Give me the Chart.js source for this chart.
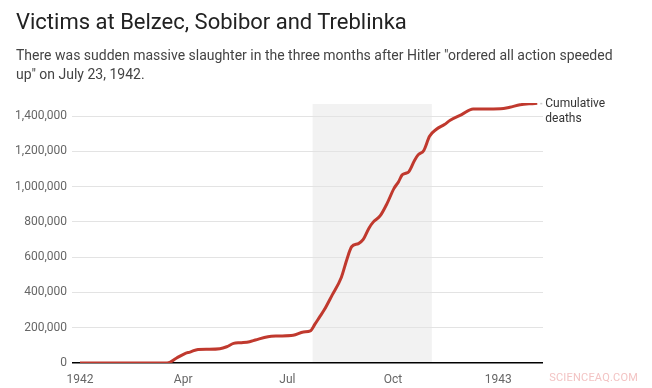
<!DOCTYPE html>
<html>
<head>
<meta charset="utf-8">
<script src="https://cdn.jsdelivr.net/npm/chart.js@4/dist/chart.umd.min.js"></script>
<style>
  html, body { margin: 0; padding: 0; background: #fff; }
  #wrap { position: relative; width: 652px; height: 388px; overflow: hidden; font-family: Roboto, "Liberation Sans", sans-serif; }
  #title { position: absolute; left: 16px; top: 9px; font-size: 22px; color: #222; white-space: nowrap; }
  #subtitle { position: absolute; left: 16px; top: 46px; font-size: 14px; line-height: 19px; color: #444; white-space: nowrap; }
  #wm { position: absolute; right: 14px; top: 371px; font-size: 11px; color: #f3c4c4; letter-spacing: 0.2px; }
  canvas { position: absolute; left: 0; top: 0; }
</style>
</head>
<body>
<div id="wrap">
  <canvas id="c" width="652" height="388"></canvas>
  <div id="title">Victims at Belzec, Sobibor and Treblinka</div>
  <div id="subtitle">There was sudden massive slaughter in the three months after Hitler "ordered all action speeded<br>up" on July 23, 1942.</div>
  <div id="wm">SCIENCEAQ.COM</div>
</div>
<script>
// Days since Jan 1, 1942
const days = [0, 76, 84, 92, 96, 103, 112, 122, 128, 134, 140, 148, 153, 164, 172, 186, 195, 201, 205, 209, 213, 220, 228, 233, 237, 243, 247, 252, 256, 262, 268, 274, 278, 281, 284, 287, 292, 295, 300, 305, 311, 318, 323, 333, 343, 352, 367, 375, 384, 393, 399];
const deaths = [0, 0, 27000, 55000, 62000, 77000, 78000, 81000, 92000, 111000, 115000, 121000, 130000, 149000, 153000, 157000, 176000, 182000, 220000, 260000, 300000, 385000, 485000, 590000, 659000, 677000, 699000, 763000, 800000, 835000, 905000, 990000, 1028000, 1066000, 1075000, 1085000, 1150000, 1180000, 1205000, 1285000, 1325000, 1352000, 1376000, 1408000, 1440000, 1440000, 1441000, 1450000, 1464000, 1470000, 1472000];
const xTickDays = [0, 90, 181, 273, 365];
const xTickLabels = ['1942', 'Apr', 'Jul', 'Oct', '1943'];
const yTicks = [0, 200000, 400000, 600000, 800000, 1000000, 1200000, 1400000];
const highlightDays = [203, 307]; // July 23 to early November 1942
const seriesLabel = ['Cumulative', 'deaths'];

Chart.defaults.font.family = 'Roboto, "Liberation Sans", sans-serif';

const shadePlugin = {
  id: 'shade',
  beforeDraw(chart) {
    const { ctx, chartArea, scales } = chart;
    const x0 = scales.x.getPixelForValue(highlightDays[0]);
    const x1 = scales.x.getPixelForValue(highlightDays[1]);
    ctx.save();
    ctx.fillStyle = '#f2f2f2';
    ctx.fillRect(x0, chartArea.top + 1, x1 - x0, chartArea.bottom - chartArea.top - 1);
    ctx.restore();
  }
};

const labelPlugin = {
  id: 'endLabel',
  afterDatasetsDraw(chart) {
    const meta = chart.getDatasetMeta(0);
    const last = meta.data[meta.data.length - 1];
    const ctx = chart.ctx;
    ctx.save();
    ctx.fillStyle = '#cccccc';
    ctx.fillRect(last.x + 3, last.y - 0.5, 2, 1.5);
    ctx.fillStyle = '#333';
    ctx.font = '12px Roboto, "Liberation Sans", sans-serif';
    ctx.textBaseline = 'middle';
    ctx.textAlign = 'left';
    ctx.fillText(seriesLabel[0], last.x + 8, last.y + 1);
    ctx.fillText(seriesLabel[1], last.x + 8, last.y + 16);
    ctx.restore();
  }
};

new Chart(document.getElementById('c'), {
  type: 'line',
  data: {
    datasets: [{
      data: days.map((d, i) => ({ x: d, y: deaths[i] })),
      borderColor: '#c0392e',
      borderWidth: 3,
      pointRadius: 0,
      cubicInterpolationMode: 'monotone',
      fill: false
    }]
  },
  options: {
    responsive: false,
    devicePixelRatio: 1,
    animation: false,
    layout: { padding: { top: 103, right: 109, left: 0, bottom: 0 } },
    plugins: { legend: { display: false }, tooltip: { enabled: false } },
    scales: {
      x: {
        type: 'linear',
        min: 0,
        max: 404,
        afterBuildTicks(axis) { axis.ticks = xTickDays.map(v => ({ value: v })); },
        afterFit(axis) { axis.height = 25; },
        grid: { display: false },
        border: { display: false },
        ticks: {
          autoSkip: false,
          maxRotation: 0,
          padding: 2,
          color: '#666',
          font: { size: 12 },
          callback(value, index) { return xTickLabels[index]; }
        }
      },
      y: {
        min: 0,
        max: 1474000,
        afterBuildTicks(axis) { axis.ticks = yTicks.map(v => ({ value: v })); },
        afterFit(axis) { axis.width = 80; },
        border: { display: false },
        grid: {
          color: ctx => (ctx.tick && ctx.tick.value === 0) ? '#000' : '#e3e3e3',
          tickColor: ctx => (ctx.tick && ctx.tick.value === 0) ? '#000' : '#e3e3e3',
          lineWidth: ctx => (ctx.tick && ctx.tick.value === 0) ? 1.5 : 1,
          tickLength: 8
        },
        ticks: {
          padding: 5,
          color: '#666',
          font: { size: 12 },
          callback(value) { return value.toLocaleString('en-US'); }
        }
      }
    }
  },
  plugins: [shadePlugin, labelPlugin]
});
</script>
</body>
</html>
